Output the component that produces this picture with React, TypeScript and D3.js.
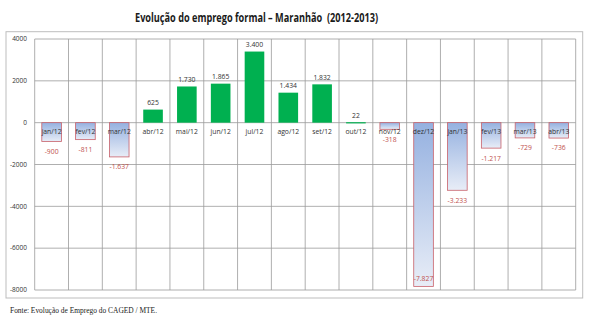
import React from "react";
import * as d3 from "d3";

const categories = ["jan/12","fev/12","mar/12","abr/12","mai/12","jun/12","jul/12","ago/12","set/12","out/12","nov/12","dez/12","jan/13","fev/13","mar/13","abr/13"];
const values = [-900,-811,-1637,625,1730,1865,3400,1434,1832,22,-318,-7827,-3233,-1217,-729,-736];
const yTicks = [4000,2000,0,-2000,-4000,-6000,-8000];
const title = "Evolução do emprego formal – Maranhão\u00a0 (2012-2013)";
const source = "Fonte: Evolução de Emprego do CAGED / MTE.";

const W = 600, H = 326;
const plot = { left: 34.7, right: 575.7, top: 39, bottom: 290 };

const fmt = (v: number) => {
  const s = Math.abs(v).toString().replace(/\B(?=(\d{3})+(?!\d))/g, ".");
  return (v < 0 ? "-" : "") + s;
};

export default function App() {
  const x = d3.scaleBand<string>().domain(categories).range([plot.left, plot.right]).paddingInner(0).paddingOuter(0);
  const y = d3.scaleLinear().domain([-8000, 4000]).range([plot.bottom, plot.top]);
  const bw = x.bandwidth() * 0.58;
  const y0 = y(0);
  const font = "'Open Sans', 'Noto Sans', sans-serif";
  const gridColor = "#9a9a9a";
  const vLines = d3.range(categories.length + 1).map(i => plot.left + i * x.step());

  return (
    <svg width={W} height={H} style={{ position: "absolute", left: 0, top: 0, background: "#fff" }}>
      <defs>
        <linearGradient id="negGrad" x1="0" y1="0" x2="0" y2="1">
          <stop offset="0%" stopColor="#95b1e0" />
          <stop offset="100%" stopColor="#e8edf7" />
        </linearGradient>
      </defs>
      <text x={135} y={22} textLength={243} lengthAdjust="spacingAndGlyphs" fontFamily={font} fontWeight="bold" fontSize={12} fill="#1a1a1a">{title}</text>
      <rect x={6} y={31.7} width={576.7} height={266.3} fill="none" stroke="#bdbdbd" strokeWidth={1} />
      {yTicks.map(t => (
        <g key={t}>
          <line x1={plot.left} x2={plot.right} y1={y(t)} y2={y(t)} stroke={gridColor} strokeWidth={0.8} />
          <text x={27} y={y(t)} dy="0.35em" textAnchor="end" fontFamily={font} fontSize={6.5} fill="#333">{t}</text>
        </g>
      ))}
      {vLines.map((vx, i) => (
        <line key={i} x1={vx} x2={vx} y1={plot.top} y2={plot.bottom} stroke={gridColor} strokeWidth={0.8} />
      ))}
      {categories.map((c, i) => {
        const v = values[i];
        const cx = (x(c) as number) + x.bandwidth() / 2;
        const yv = y(v);
        const top = Math.min(yv, y0);
        const h = Math.abs(yv - y0);
        const neg = v < 0;
        let labelY: number;
        if (neg) {
          labelY = yv + 10 > plot.bottom - 2 ? yv - 8 : yv + 10;
        } else {
          labelY = yv - 7;
        }
        return (
          <g key={c}>
            {neg ? (
              <rect x={cx - bw / 2} y={top} width={bw} height={h} fill="url(#negGrad)" stroke="#c8606a" strokeWidth={0.8} />
            ) : (
              <rect x={cx - bw / 2} y={top} width={bw} height={Math.max(h, 1.2)} fill="#00b050" />
            )}
            <text x={cx} y={y0 + 9} dy="0.35em" textAnchor="middle" fontFamily={font} fontSize={6.8} fill="#333">{c}</text>
            <text x={cx} y={labelY} dy="0.35em" textAnchor="middle" fontFamily={font} fontSize={6.8} fill={neg ? "#c0504d" : "#333"}>{fmt(v)}</text>
          </g>
        );
      })}
      <text x={10} y={313} textLength={147} lengthAdjust="spacingAndGlyphs" fontFamily="'Liberation Serif', 'DejaVu Serif', serif" fontSize={8.5} fill="#222">{source}</text>
    </svg>
  );
}
